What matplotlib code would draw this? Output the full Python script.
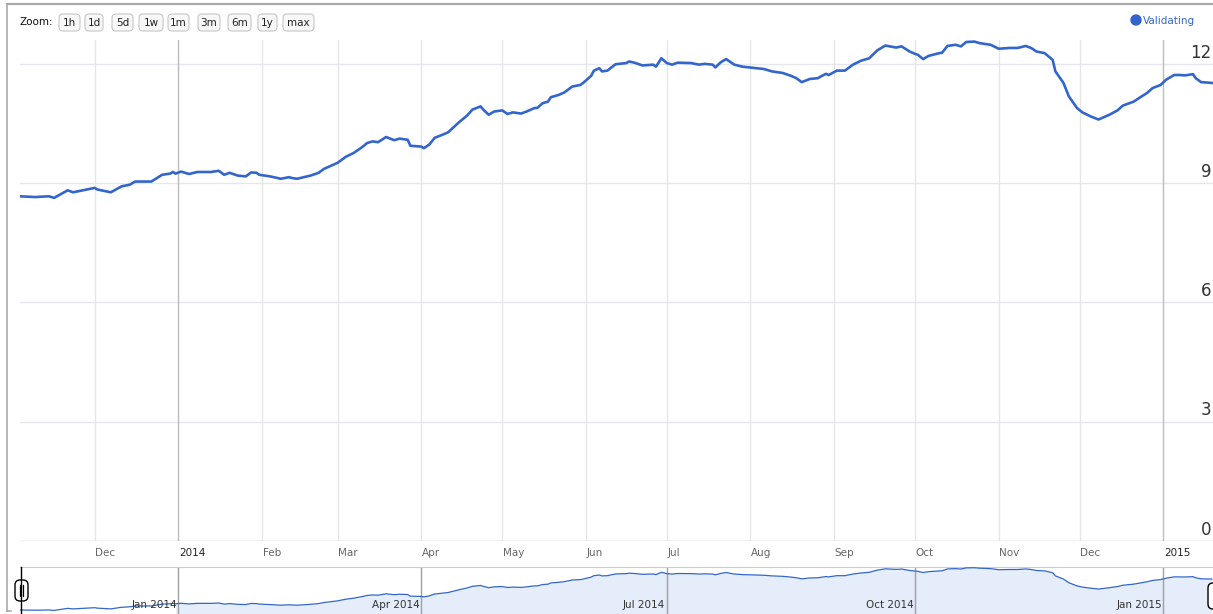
import numpy as np
import pandas as pd
import matplotlib.pyplot as plt
from matplotlib.patches import FancyBboxPatch, Circle

# Validating series
dates = [
    "2013-11-03", "2013-11-09", "2013-11-14", "2013-11-16", "2013-11-21", "2013-11-23", "2013-11-28",
    "2013-12-01", "2013-12-02", "2013-12-07", "2013-12-11", "2013-12-14", "2013-12-16", "2013-12-22",
    "2013-12-26", "2013-12-29", "2013-12-30", "2013-12-31",
    "2014-01-02", "2014-01-05", "2014-01-08", "2014-01-13", "2014-01-16", "2014-01-18", "2014-01-20",
    "2014-01-23", "2014-01-26", "2014-01-28", "2014-01-30", "2014-01-31",
    "2014-02-04", "2014-02-08", "2014-02-11", "2014-02-12", "2014-02-14", "2014-02-19", "2014-02-22", "2014-02-24",
    "2014-03-01", "2014-03-04", "2014-03-07", "2014-03-10", "2014-03-12", "2014-03-14", "2014-03-16",
    "2014-03-19", "2014-03-22", "2014-03-24", "2014-03-27", "2014-03-28",
    "2014-04-01", "2014-04-02", "2014-04-04", "2014-04-06", "2014-04-09", "2014-04-11", "2014-04-14",
    "2014-04-15", "2014-04-18", "2014-04-20", "2014-04-23", "2014-04-24", "2014-04-26", "2014-04-28",
    "2014-05-01", "2014-05-03", "2014-05-05", "2014-05-08", "2014-05-10", "2014-05-13", "2014-05-14",
    "2014-05-16", "2014-05-18", "2014-05-19", "2014-05-22", "2014-05-24", "2014-05-27", "2014-05-30", "2014-05-31",
    "2014-06-03", "2014-06-04", "2014-06-06", "2014-06-07", "2014-06-09", "2014-06-12", "2014-06-16",
    "2014-06-17", "2014-06-19", "2014-06-22", "2014-06-26", "2014-06-27", "2014-06-29",
    "2014-07-01", "2014-07-03", "2014-07-05", "2014-07-10", "2014-07-13", "2014-07-15", "2014-07-18",
    "2014-07-19", "2014-07-21", "2014-07-23", "2014-07-26", "2014-07-29",
    "2014-08-06", "2014-08-09", "2014-08-13", "2014-08-16", "2014-08-18", "2014-08-20", "2014-08-23",
    "2014-08-26", "2014-08-27", "2014-08-29", "2014-08-30",
    "2014-09-02", "2014-09-05", "2014-09-08", "2014-09-11", "2014-09-14", "2014-09-17", "2014-09-20",
    "2014-09-24", "2014-09-26", "2014-09-29",
    "2014-10-01", "2014-10-02", "2014-10-04", "2014-10-06", "2014-10-10", "2014-10-11", "2014-10-13",
    "2014-10-16", "2014-10-18", "2014-10-20", "2014-10-23", "2014-10-25", "2014-10-29",
    "2014-11-01", "2014-11-05", "2014-11-08", "2014-11-11", "2014-11-13", "2014-11-15", "2014-11-18",
    "2014-11-21", "2014-11-22", "2014-11-25", "2014-11-27", "2014-11-30",
    "2014-12-02", "2014-12-05", "2014-12-08", "2014-12-10", "2014-12-12", "2014-12-15", "2014-12-17",
    "2014-12-21", "2014-12-23", "2014-12-26", "2014-12-28", "2014-12-31",
    "2015-01-02", "2015-01-05", "2015-01-07", "2015-01-09", "2015-01-12", "2015-01-13", "2015-01-15", "2015-01-19",
]
values = [
    8.67, 8.65, 8.67, 8.63, 8.82, 8.77, 8.84,
    8.88, 8.84, 8.77, 8.92, 8.96, 9.04, 9.04,
    9.21, 9.24, 9.28, 9.24,
    9.29, 9.23, 9.28, 9.28, 9.31, 9.21, 9.26,
    9.19, 9.17, 9.27, 9.26, 9.21,
    9.17, 9.11, 9.15, 9.13, 9.11, 9.19, 9.26, 9.36,
    9.51, 9.66, 9.76, 9.90, 10.01, 10.05, 10.03,
    10.16, 10.08, 10.12, 10.09, 9.94,
    9.92, 9.88, 9.97, 10.14, 10.22, 10.28, 10.47,
    10.53, 10.70, 10.85, 10.93, 10.85, 10.72, 10.80,
    10.83, 10.74, 10.78, 10.75, 10.80, 10.89, 10.89,
    11.01, 11.05, 11.16, 11.22, 11.28, 11.43, 11.47, 11.52,
    11.70, 11.83, 11.89, 11.81, 11.83, 11.99, 12.02,
    12.06, 12.03, 11.96, 11.98, 11.93, 12.14,
    12.02, 11.98, 12.03, 12.02, 11.98, 12.00, 11.98,
    11.91, 12.04, 12.12, 11.98, 11.93,
    11.87, 11.81, 11.77, 11.70, 11.64, 11.54, 11.62,
    11.64, 11.68, 11.75, 11.72,
    11.83, 11.83, 11.98, 12.08, 12.14, 12.34, 12.46,
    12.41, 12.44, 12.31,
    12.25, 12.23, 12.12, 12.20, 12.27, 12.28, 12.45,
    12.48, 12.44, 12.55, 12.56, 12.52, 12.48,
    12.38, 12.40, 12.40, 12.45, 12.40, 12.31, 12.27,
    12.10, 11.81, 11.52, 11.18, 10.89,
    10.78, 10.68, 10.60, 10.66, 10.72, 10.83, 10.95,
    11.05, 11.14, 11.27, 11.39, 11.47,
    11.60, 11.72, 11.72, 11.71, 11.74, 11.64, 11.54, 11.52,
]

y_ticks = [0, 3, 6, 9, 12]
month_ticks = ["2013-12-01", "2014-01-01", "2014-02-01", "2014-03-01", "2014-04-01", "2014-05-01",
               "2014-06-01", "2014-07-01", "2014-08-01", "2014-09-01", "2014-10-01", "2014-11-01",
               "2014-12-01", "2015-01-01"]
month_labels = ["Dec", "2014", "Feb", "Mar", "Apr", "May", "Jun", "Jul", "Aug", "Sep", "Oct", "Nov", "Dec", "2015"]
nav_ticks = ["2014-01-01", "2014-04-01", "2014-07-01", "2014-10-01", "2015-01-01"]
nav_labels = ["Jan 2014", "Apr 2014", "Jul 2014", "Oct 2014", "Jan 2015"]
zoom_buttons = ["1h", "1d", "5d", "1w", "1m", "3m", "6m", "1y", "max"]
series_name = "Validating"

BLUE = "#3366cc"
W, H = 1213, 614

t = pd.to_datetime(dates)
v = np.array(values)
jan1 = pd.Timestamp("2014-01-01")
x_start = jan1 - pd.Timedelta(days=58.66)
x_end = jan1 + pd.Timedelta(days=383.4)


def px_rect(x0, y0, x1, y1):
    # pixel box (top-left origin) -> figure fraction rect
    return [x0 / W, 1 - y1 / H, (x1 - x0) / W, (y1 - y0) / H]


fig = plt.figure(figsize=(W / 100, H / 100), dpi=100)

# main chart
ax = fig.add_axes(px_rect(20, 40, W, 541))
ax.plot(t, v, color=BLUE, lw=1.9, zorder=3, solid_joinstyle="round")
ax.set_xlim(x_start, x_end)
ax.set_ylim(0, 12.6)
for s in ax.spines.values():
    s.set_visible(False)
ax.set_xticks([])
ax.set_yticks([])

for yv in y_ticks:
    ax.axhline(yv, color="#bbbbbb" if yv == 0 else "#e6e6ef", lw=1, zorder=1)
    ax.annotate(str(yv), xy=(0.9985, yv), xycoords=("axes fraction", "data"),
                xytext=(0, 4.5), textcoords="offset points", ha="right", va="baseline",
                fontsize=12, color="#333333")

for m, lab in zip(month_ticks, month_labels):
    m = pd.Timestamp(m)
    is_year = lab.isdigit()
    ax.axvline(m, color="#bcbcbc" if is_year else "#e6e6e6", lw=1, zorder=1)
    ax.text(m + pd.Timedelta(days=0.2), -0.024, lab, transform=ax.get_xaxis_transform(),
            ha="left", va="center", fontsize=7.5, color="#222222" if is_year else "#666666")

# navigator strip
nav = fig.add_axes(px_rect(20, 567, W, 614))
nav.plot(t, v, color=BLUE, lw=0.9, zorder=3)
nav.fill_between(t, v, 0, where=t >= pd.Timestamp("2013-12-31"), color="#e4edf9", lw=0, zorder=1)
nav.set_xlim(x_start, x_end)
nav.set_ylim(8.30, 12.63)
nav.set_xticks([])
nav.set_yticks([])
for side, s in nav.spines.items():
    s.set_visible(side == "top")
nav.spines["top"].set_color("#cccccc")
for q, lab in zip(nav_ticks, nav_labels):
    q = pd.Timestamp(q)
    nav.axvline(q, color="#a0a0a0", lw=1, zorder=2)
    nav.text(q - pd.Timedelta(days=0.6), 0.19, lab, transform=nav.get_xaxis_transform(),
             ha="right", va="center", fontsize=7.5, color="#333333", zorder=4)

# overlay in pixel coordinates for the page furniture
ov = fig.add_axes([0, 0, 1, 1], zorder=10)
ov.set_xlim(0, W)
ov.set_ylim(H, 0)
ov.axis("off")

# outer frame
ov.plot([7, W], [4, 4], color="#aaaaaa", lw=1.6)
ov.plot([7, 7], [4, 611], color="#aaaaaa", lw=1.2)
ov.plot([7, 11], [611, 611], color="#aaaaaa", lw=1.2)

# zoom buttons
ov.text(20, 22, "Zoom:", ha="left", va="center", fontsize=7.5, color="#111111")
btn_x = [59, 85, 112, 139, 168, 198, 228, 258, 283]
btn_w = [21, 18, 21, 24, 21, 22, 23, 19, 31]
for lab, bx, bw in zip(zoom_buttons, btn_x, btn_w):
    ov.add_patch(FancyBboxPatch((bx, 14), bw, 17, boxstyle="round,pad=0,rounding_size=4",
                                fc="#f7f7f7", ec="#c6c6c6", lw=0.8))
    ov.text(bx + bw / 2, 22.5, lab, ha="center", va="center", fontsize=7.5, color="#222222")

# legend
ov.add_patch(Circle((1136, 20), 5, color=BLUE))
ov.text(1143, 20.5, series_name, ha="left", va="center", fontsize=7.5, color=BLUE)

# navigator handles
ov.plot([21, 21], [567, 614], color="black", lw=1)
ov.add_patch(FancyBboxPatch((15, 580), 13, 21, boxstyle="round,pad=0,rounding_size=5",
                            fc="white", ec="black", lw=1))
ov.plot([19.5, 19.5], [585, 596], color="black", lw=0.9)
ov.plot([23, 23], [585, 596], color="black", lw=0.9)
ov.add_patch(FancyBboxPatch((1208, 583), 14, 26, boxstyle="round,pad=0,rounding_size=5",
                            fc="white", ec="black", lw=1))

fig.savefig("out.png", dpi=100)
